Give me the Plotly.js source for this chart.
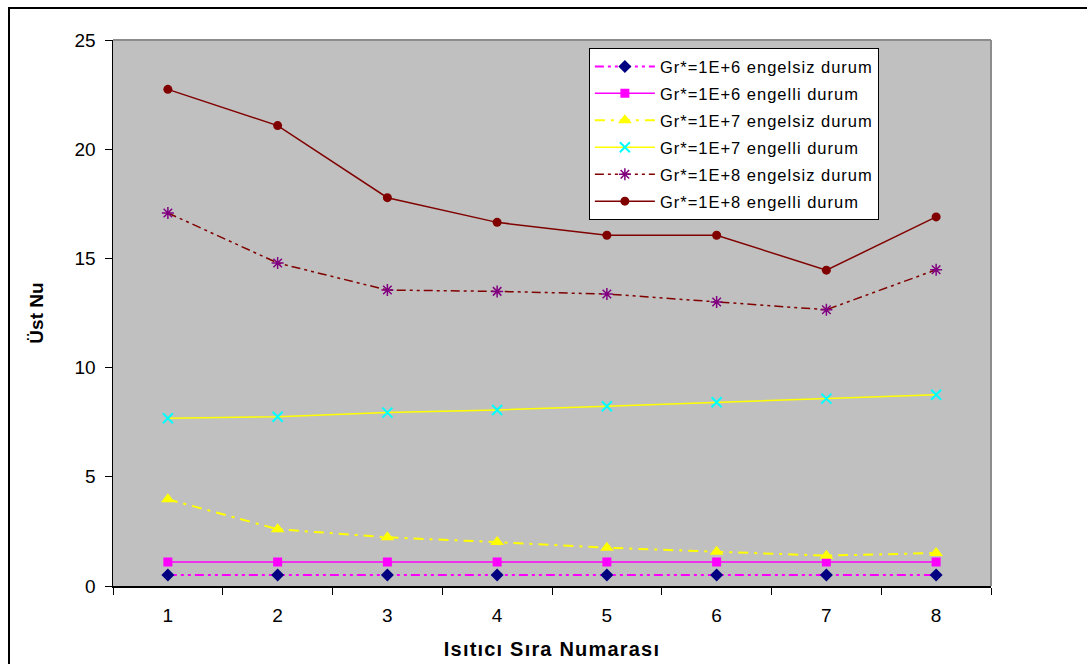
<!DOCTYPE html>
<html>
<head>
<meta charset="utf-8">
<script src="https://cdn.plot.ly/plotly-3.0.1.min.js"></script>
<style>
  html, body { margin: 0; padding: 0; background: #fff; overflow: hidden; }
  #wrap { position: relative; width: 1087px; height: 664px; overflow: hidden; }
  #chart { width: 1087px; height: 664px; }
  #frame { position: absolute; left: 8px; top: 7px; width: 1200px; height: 800px;
           border: 2px solid #000; pointer-events: none; }
  .xtitle { letter-spacing: 1.2px; }
  .legendtext { letter-spacing: 1px; }
</style>
</head>
<body>
<div id="wrap">
  <div id="chart"></div>
  <div id="frame"></div>
</div>
<script>
const categories = ['1', '2', '3', '4', '5', '6', '7', '8'];
const gr6Engelsiz = [0.5, 0.5, 0.5, 0.5, 0.5, 0.5, 0.5, 0.5];
const gr6Engelli  = [1.1, 1.1, 1.1, 1.1, 1.1, 1.1, 1.1, 1.1];
const gr7Engelsiz = [3.97, 2.60, 2.23, 2.01, 1.75, 1.57, 1.39, 1.51];
const gr7Engelli  = [7.68, 7.75, 7.94, 8.06, 8.23, 8.41, 8.58, 8.76];
const gr8Engelsiz = [17.08, 14.79, 13.55, 13.49, 13.37, 13.00, 12.65, 14.48];
const gr8Engelli  = [22.74, 21.08, 17.78, 16.65, 16.06, 16.06, 14.46, 16.90];
const seriesNames = [
  'Gr*=1E+6 engelsiz durum',
  'Gr*=1E+6 engelli durum',
  'Gr*=1E+7 engelsiz durum',
  'Gr*=1E+7 engelli durum',
  'Gr*=1E+8 engelsiz durum',
  'Gr*=1E+8 engelli durum'
];
const yTicks = [0, 5, 10, 15, 20, 25];

const FONT = 'Liberation Sans, Arial, sans-serif';

function tr(i, y, line, marker) {
  return {
    x: categories, y: y, name: seriesNames[i], type: 'scatter', mode: 'lines+markers',
    line: line, marker: marker, legendgroup: 'g' + i, hoverinfo: 'skip'
  };
}

const traces = [
  tr(0, gr6Engelsiz, {color: '#ff00ff', width: 2, dash: '9px,4px,3px,4px,3px,4px'},
     {symbol: 'diamond', color: '#000080', size: 10}),
  tr(1, gr6Engelli, {color: '#ff00ff', width: 1.5},
     {symbol: 'square', color: '#ff00ff', size: 9}),
  tr(2, gr7Engelsiz, {color: '#ffff00', width: 2, dash: '10px,6px,3px,6px'},
     {symbol: 'triangle-up', color: '#ffff00', size: 12}),
  tr(3, gr7Engelli, {color: '#ffff00', width: 1.5},
     {symbol: 'x-thin-open', color: '#00ffff', size: 10, line: {color: '#00ffff', width: 2}}),
  tr(4, gr8Engelsiz, {color: '#800000', width: 1.5, dash: '9px,4px,3px,4px,3px,4px'},
     {symbol: 'asterisk-open', color: '#800080', size: 10, line: {color: '#800080', width: 1.5}}),
  tr(5, gr8Engelli, {color: '#800000', width: 1.5},
     {symbol: 'circle', color: '#800000', size: 9})
];

const layout = {
  width: 1087, height: 664,
  margin: {l: 113, r: 96, t: 40, b: 78},
  paper_bgcolor: '#ffffff',
  plot_bgcolor: '#c0c0c0',
  font: {family: FONT, color: '#000', size: 17},
  showlegend: true,
  legend: {
    x: 0.542, y: 0.985, xanchor: 'left', yanchor: 'top',
    bgcolor: '#ffffff', bordercolor: '#000', borderwidth: 1,
    font: {family: FONT, size: 16.5, color: '#000'},
    traceorder: 'grouped', itemwidth: 60, tracegroupgap: 2.5
  },
  xaxis: {
    type: 'category', range: [-0.5, 7.5], tickson: 'boundaries',
    ticks: 'outside', ticklen: 7, tickcolor: '#000', tickwidth: 1,
    showline: true, linecolor: '#000', linewidth: 1.5, showgrid: false, zeroline: false,
    tickfont: {family: FONT, size: 19}, ticklabelstandoff: 12, fixedrange: true,
    title: {text: 'Isıtıcı Sıra Numarası', font: {family: FONT, size: 20, weight: 'bold'}, standoff: 16}
  },
  yaxis: {
    range: [0, 25], tickvals: yTicks, ticktext: yTicks.map(String),
    ticks: 'outside', ticklen: 7, tickcolor: '#000', tickwidth: 1,
    showline: true, linecolor: '#000', linewidth: 1.5, showgrid: false, zeroline: false,
    tickfont: {family: FONT, size: 19}, ticklabelstandoff: 5, fixedrange: true,
    title: {text: 'Üst Nu', font: {family: FONT, size: 19, weight: 'bold'}, standoff: 26}
  },
  shapes: [
    {type: 'line', xref: 'paper', yref: 'paper', x0: 0, x1: 1, y0: 1, y1: 1,
     line: {color: '#8c8c8c', width: 2}, layer: 'below'},
    {type: 'line', xref: 'paper', yref: 'paper', x0: 1, x1: 1, y0: 0, y1: 1,
     line: {color: '#8c8c8c', width: 2}, layer: 'below'}
  ]
};

Plotly.newPlot('chart', traces, layout, {staticPlot: true, displayModeBar: false});
</script>
</body>
</html>
